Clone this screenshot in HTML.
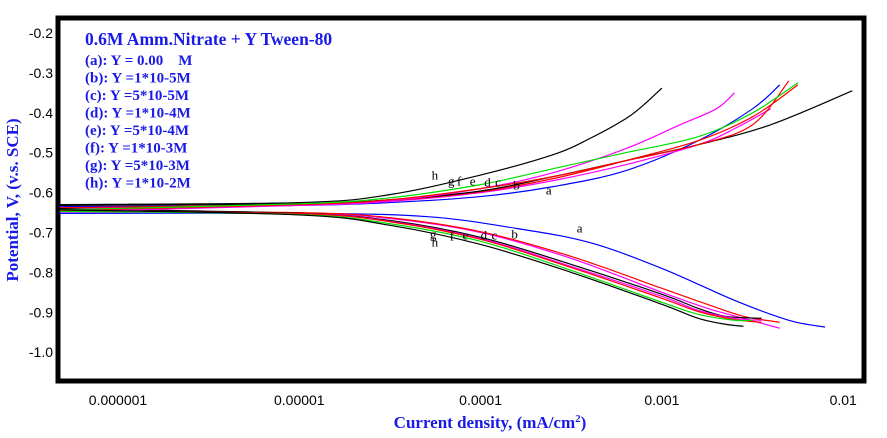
<!DOCTYPE html>
<html><head><meta charset="utf-8"><style>
html,body{margin:0;padding:0;background:#fff;}
svg{display:block;font-family:"Liberation Sans",sans-serif;}
.leg{font-family:"Liberation Serif",serif;font-weight:bold;fill:#1a1ae6;}
</style></head><body>
<svg id="chart" width="887" height="438" viewBox="0 0 887 438" xmlns="http://www.w3.org/2000/svg">
<rect x="58" y="18" width="806" height="363" fill="#fff" stroke="#000" stroke-width="5"/>
<g id="yticks"></g>
<g id="xticks"></g>
<g id="series"></g>
<g id="labels"></g>
<text x="18" y="200" transform="rotate(-90 18 200)" text-anchor="middle" class="leg" font-size="17">Potential, V, (v.s. SCE)</text>
<text x="490" y="428" text-anchor="middle" class="leg" font-size="17">Current density, (mA/cm<tspan font-size="11" dy="-6">2</tspan><tspan dy="6">)</tspan></text>
<g>
<text x="85" y="45" class="leg" font-size="17.5">0.6M Amm.Nitrate + Y Tween-80</text>
<text x="85" y="65" class="leg" font-size="15">(a): Y = 0.00&#160;&#160;&#160;&#160;M</text>
<text x="85" y="82.5" class="leg" font-size="15">(b): Y =1*10-5M</text>
<text x="85" y="100" class="leg" font-size="15">(c): Y =5*10-5M</text>
<text x="85" y="117.5" class="leg" font-size="15">(d): Y =1*10-4M</text>
<text x="85" y="135" class="leg" font-size="15">(e): Y =5*10-4M</text>
<text x="85" y="152.5" class="leg" font-size="15">(f): Y =1*10-3M</text>
<text x="85" y="170" class="leg" font-size="15">(g): Y =5*10-3M</text>
<text x="85" y="187.5" class="leg" font-size="15">(h): Y =1*10-2M</text>
</g>
</svg>
<script>
const yTicks=[-0.2,-0.3,-0.4,-0.5,-0.6,-0.7,-0.8,-0.9,-1.0];
const yTickLabels=["-0.2","-0.3","-0.4","-0.5","-0.6","-0.7","-0.8","-0.9","-1.0"];
const xTicks=[-6,-5,-4,-3,-2];
const xTickLabels=["0.000001","0.00001","0.0001","0.001","0.01"];
const seriesNames=["a","b","c","d","e","f","g","h"];
const seriesColors=["#0000ff","#ff00ff","#ff0000","#000000","#ff00ff","#ff0000","#00dd00","#000000"];
const anodicLogI=[
[-6.32,-5,-4.5,-4,-3.6,-3.2,-2.8,-2.5,-2.35],
[-6.32,-5,-4.5,-4,-3.6,-3.2,-2.8,-2.6,-2.4],
[-6.32,-5,-4.5,-4,-3.6,-3.2,-2.8,-2.5,-2.25],
[-6.32,-5,-4.5,-4,-3.6,-3.2,-2.8,-2.4,-1.95],
[-6.32,-5,-4.5,-4,-3.6,-3.2,-2.9,-2.7,-2.6],
[-6.32,-5,-4.5,-4,-3.6,-3.2,-2.8,-2.5,-2.3],
[-6.32,-5,-4.5,-4,-3.6,-3.2,-2.8,-2.5,-2.25],
[-6.32,-5,-4.5,-4,-3.6,-3.4,-3.2,-3.1,-3.0]];
const anodicE=[
[-0.635,-0.632,-0.625,-0.61,-0.585,-0.545,-0.47,-0.39,-0.33],
[-0.64,-0.632,-0.622,-0.6,-0.57,-0.53,-0.48,-0.44,-0.39],
[-0.638,-0.63,-0.62,-0.598,-0.565,-0.52,-0.47,-0.41,-0.33],
[-0.632,-0.628,-0.618,-0.596,-0.56,-0.52,-0.48,-0.43,-0.345],
[-0.648,-0.632,-0.62,-0.59,-0.55,-0.49,-0.43,-0.39,-0.35],
[-0.645,-0.63,-0.618,-0.59,-0.56,-0.52,-0.48,-0.43,-0.32],
[-0.643,-0.628,-0.613,-0.58,-0.54,-0.5,-0.46,-0.4,-0.325],
[-0.63,-0.625,-0.605,-0.556,-0.505,-0.465,-0.415,-0.38,-0.338]];
const cathodicLogI=[
[-6.32,-5,-4.3,-3.8,-3.4,-3,-2.6,-2.3,-2.1],
[-6.32,-5,-4.5,-4,-3.5,-3,-2.75,-2.55,-2.35],
[-6.32,-5,-4.5,-4,-3.5,-3,-2.75,-2.55,-2.35],
[-6.32,-5,-4.5,-4,-3.5,-3,-2.8,-2.65,-2.45],
[-6.32,-5,-4.5,-4,-3.5,-3,-2.8,-2.6,-2.45],
[-6.32,-5,-4.5,-4,-3.5,-3,-2.8,-2.6,-2.45],
[-6.32,-5,-4.5,-4,-3.5,-3,-2.8,-2.6,-2.5],
[-6.32,-5,-4.5,-4,-3.5,-3,-2.8,-2.65,-2.55]];
const cathodicE=[
[-0.652,-0.652,-0.66,-0.69,-0.725,-0.79,-0.87,-0.92,-0.937],
[-0.648,-0.652,-0.665,-0.7,-0.765,-0.85,-0.89,-0.915,-0.94],
[-0.645,-0.65,-0.663,-0.698,-0.76,-0.84,-0.88,-0.91,-0.925],
[-0.64,-0.652,-0.67,-0.712,-0.78,-0.855,-0.89,-0.91,-0.915],
[-0.648,-0.653,-0.672,-0.715,-0.785,-0.86,-0.895,-0.915,-0.92],
[-0.645,-0.653,-0.673,-0.717,-0.788,-0.865,-0.898,-0.918,-0.925],
[-0.647,-0.655,-0.678,-0.722,-0.795,-0.875,-0.905,-0.92,-0.92],
[-0.643,-0.656,-0.682,-0.73,-0.8,-0.88,-0.915,-0.93,-0.935]];
const anodicLabelLogI=[-3.64,-3.82,-3.92,-3.98,-4.06,-4.13,-4.18,-4.27];
const anodicLabelE=[-0.605,-0.592,-0.585,-0.585,-0.582,-0.582,-0.582,-0.567];
const cathodicLabelLogI=[-3.47,-3.83,-3.94,-4.0,-4.1,-4.17,-4.28,-4.27];
const cathodicLabelE=[-0.7,-0.715,-0.718,-0.718,-0.718,-0.72,-0.715,-0.735];

const NS="http://www.w3.org/2000/svg";
function xS(l){return 118+(l+6)*181.3;}
function yS(e){return 33+(-0.2-e)*399;}
const yt=document.getElementById('yticks');
yTicks.forEach((v,i)=>{
 const t=document.createElementNS(NS,'text');
 
 
 t.setAttribute('x',53);t.setAttribute('y',yS(v)+5);t.setAttribute('text-anchor','end');t.setAttribute('font-size','14');
 t.textContent=yTickLabels[i];yt.appendChild(t);
});
const xt=document.getElementById('xticks');
xTicks.forEach((v,i)=>{
 const t=document.createElementNS(NS,'text');
 
 
 t.setAttribute('x',xS(v));t.setAttribute('y',405);t.setAttribute('text-anchor','middle');t.setAttribute('font-size','14');
 t.textContent=xTickLabels[i];xt.appendChild(t);
});
function smooth(xs,ys){
 const p=xs.map((x,i)=>[xS(x),yS(ys[i])]);
 let d='M'+p[0][0]+','+p[0][1];
 for(let i=0;i<p.length-1;i++){
  const p0=p[i-1]||p[i],p1=p[i],p2=p[i+1],p3=p[i+2]||p2;
  const c1=[p1[0]+(p2[0]-p0[0])/6,p1[1]+(p2[1]-p0[1])/6];
  const c2=[p2[0]-(p3[0]-p1[0])/6,p2[1]-(p3[1]-p1[1])/6];
  d+='C'+c1+' '+c2+' '+p2;
 }
 return d;
}
const sg=document.getElementById('series');
const lg=document.getElementById('labels');
seriesNames.forEach((n,i)=>{
 [[anodicLogI[i],anodicE[i],'anodic'],[cathodicLogI[i],cathodicE[i],'cathodic']].forEach(b=>{
  const p=document.createElementNS(NS,'path');
  
  
  p.setAttribute('d',smooth(b[0],b[1]));p.setAttribute('fill','none');
  p.setAttribute('stroke',seriesColors[i]);p.setAttribute('stroke-width','1.2');
  sg.appendChild(p);
 });
 [[anodicLabelLogI[i],anodicLabelE[i]],[cathodicLabelLogI[i],cathodicLabelE[i]]].forEach(b=>{
  const t=document.createElementNS(NS,'text');
  
  
  t.setAttribute('x',xS(b[0]));t.setAttribute('y',yS(b[1]));
  t.setAttribute('font-family','Liberation Serif, serif');t.setAttribute('font-size','13');
  t.textContent=n;lg.appendChild(t);
 });
});
</script>
</body></html>
